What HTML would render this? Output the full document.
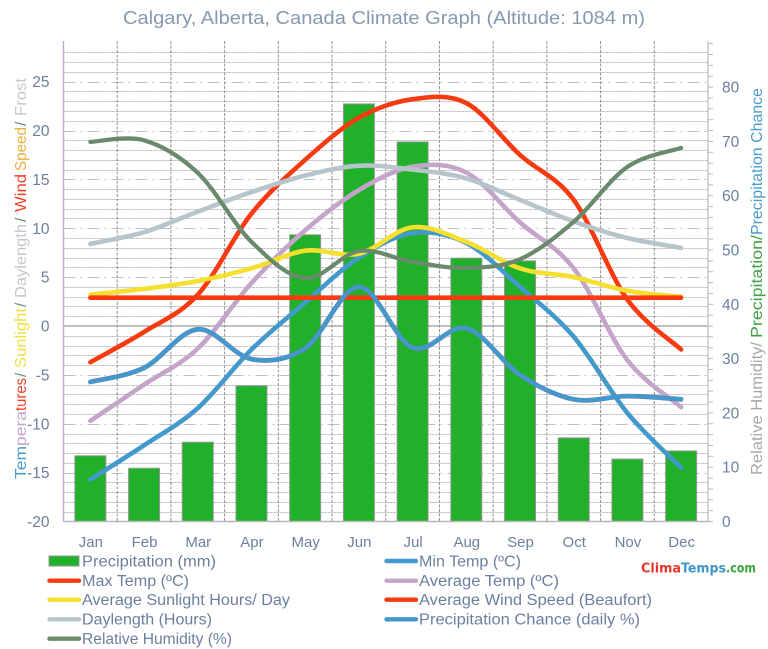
<!DOCTYPE html>
<html>
<head>
<meta charset="utf-8">
<title>Calgary, Alberta, Canada Climate Graph</title>
<style>
html,body{margin:0;padding:0;background:#fff;}
svg{display:block;font-family:"Liberation Sans",sans-serif;filter:blur(0.35px);}
</style>
</head>
<body>
<svg id="chart" xmlns="http://www.w3.org/2000/svg" width="768" height="649" viewBox="0 0 768 649">
<rect width="768" height="649" fill="#ffffff"/>
<text x="123" y="24" font-size="18.5" fill="#8699b0" textLength="522" lengthAdjust="spacingAndGlyphs">Calgary, Alberta, Canada Climate Graph (Altitude: 1084 m)</text>
<g id="grid"></g>
<g id="bars"></g>
<g id="lines"></g>
<g id="axes"></g>

<g font-size="15.5">
<text transform="translate(26,479) rotate(-90)" fill="#4a9ccc" textLength="33" lengthAdjust="spacingAndGlyphs">Tem</text>
<text transform="translate(26,446) rotate(-90)" fill="#c4a8cc" textLength="35" lengthAdjust="spacingAndGlyphs">pera</text>
<text transform="translate(26,411) rotate(-90)" fill="#f0402a" textLength="33" lengthAdjust="spacingAndGlyphs">tures</text>
<text transform="translate(26,377) rotate(-90)" fill="#6a8a6c">/</text>
<text transform="translate(26,368) rotate(-90)" fill="#efe040" textLength="60" lengthAdjust="spacingAndGlyphs">Sunlight</text>
<text transform="translate(26,307) rotate(-90)" fill="#6a8a6c">/</text>
<text transform="translate(26,298) rotate(-90)" fill="#c2c8cc" textLength="74" lengthAdjust="spacingAndGlyphs">Daylength</text>
<text transform="translate(26,222) rotate(-90)" fill="#6a8a6c">/</text>
<text transform="translate(26,212) rotate(-90)" fill="#f0402a" textLength="38" lengthAdjust="spacingAndGlyphs">Wind</text>
<text transform="translate(26,171) rotate(-90)" fill="#e8b040" textLength="44" lengthAdjust="spacingAndGlyphs">Speed</text>
<text transform="translate(26,126) rotate(-90)" fill="#6a8a6c">/</text>
<text transform="translate(26,116) rotate(-90)" fill="#c8c8c8" textLength="38" lengthAdjust="spacingAndGlyphs">Frost</text>
</g>

<g font-size="15.5">
<text transform="translate(762,475) rotate(-90)" fill="#a8a8a8" textLength="133" lengthAdjust="spacingAndGlyphs">Relative Humidity/</text>
<text transform="translate(762,338) rotate(-90)" fill="#3fa046" textLength="103" lengthAdjust="spacingAndGlyphs">Precipitation/</text>
<text transform="translate(762,235) rotate(-90)" fill="#4a9ccc" textLength="147" lengthAdjust="spacingAndGlyphs">Precipitation Chance</text>
</g>

<g id="legend"></g>

<g font-size="13.5" font-weight="bold" font-family="'DejaVu Sans','Liberation Sans',sans-serif">
<text x="641" y="572.5" fill="#e8352a" textLength="40" lengthAdjust="spacingAndGlyphs">Clima</text>
<text x="681" y="572.5" fill="#3f96c8" textLength="45" lengthAdjust="spacingAndGlyphs">Temps</text>
<text x="726" y="572.5" fill="#3aa53a" textLength="30" lengthAdjust="spacingAndGlyphs">.com</text>
</g>
</svg>
<script>
var months = ['Jan','Feb','Mar','Apr','May','Jun','Jul','Aug','Sep','Oct','Nov','Dec'];
var leftTicks = [-20,-15,-10,-5,0,5,10,15,20,25];
var rightTicks = [0,10,20,30,40,50,60,70,80];
var precipitation = [12.1,9.8,14.6,25,52.8,76.9,69.9,48.5,48,15.4,11.5,13];
var minTemp = [-15.7,-12.2,-8.4,-2.4,2.4,7,9.5,8.5,4,-1.1,-8.9,-14.5];
var maxTemp = [-3.7,-0.6,3.2,11.5,17,21.3,23.2,22.8,17.5,12.9,2.7,-2.4];
var avgTemp = [-9.7,-6,-2.3,4.4,9.8,13.9,16.3,15.7,10.6,5.9,-3.5,-8.3];
var sunlight = [3.2,3.8,4.6,5.9,7.7,7.4,10.1,8.6,5.9,5,3.6,3];
var windSpeed = [2.9,2.9,2.9,2.9,2.9,2.9,2.9,2.9,2.9,2.9,2.9,2.9];
var daylength = [8.4,9.6,11.7,13.7,15.4,16.4,16,15.1,12.9,10.7,9,8];
var humidity = [69.9,70.2,64.2,51.5,44.8,49.8,47.8,46.7,48.3,55.2,65.3,68.8];
var precipChance = [25.7,28.3,35.4,29.9,31.9,43.2,32,35.6,27,22.5,23.1,22.5];

var NS = 'http://www.w3.org/2000/svg';
var plotL = 63.5, plotR = 708, plotT = 41, plotB = 521.5;
var slot = (plotR - plotL) / 12;
function xC(i){ return plotL + slot * (i + 0.5); }
function xE(i){ return plotL + slot * i; }
function yL(v){ return 326 - v * 9.775; }
function yR(v){ return plotB - v * 5.43; }

function mk(parent, tag, attrs, txt){
  var el = document.createElementNS(NS, tag);
  for (var k in attrs) el.setAttribute(k, attrs[k]);
  if (txt !== undefined) el.textContent = txt;
  parent.appendChild(el);
  return el;
}
function spline(vals, y){
  var pts = vals.map(function(v,i){ return [xC(i), y(v)]; });
  var d = 'M' + pts[0][0].toFixed(1) + ' ' + pts[0][1].toFixed(1);
  for (var i = 0; i < pts.length - 1; i++){
    var p0 = pts[Math.max(i-1,0)], p1 = pts[i], p2 = pts[i+1], p3 = pts[Math.min(i+2,pts.length-1)];
    d += ' C' + (p1[0]+(p2[0]-p0[0])/6).toFixed(1) + ' ' + (p1[1]+(p2[1]-p0[1])/6).toFixed(1) +
         ' ' + (p2[0]-(p3[0]-p1[0])/6).toFixed(1) + ' ' + (p2[1]-(p3[1]-p1[1])/6).toFixed(1) +
         ' ' + p2[0].toFixed(1) + ' ' + p2[1].toFixed(1);
  }
  return d;
}

var grid = document.getElementById('grid');
var bars = document.getElementById('bars');
var lines = document.getElementById('lines');
var axes = document.getElementById('axes');
var legend = document.getElementById('legend');

for (var g = -19; g <= 28; g++){
  var isMajor = g % 5 === 0;
  if (g === 0) continue;
  var gy = Math.round(yL(g)) + 0.5;
  var gl = mk(grid, 'line', {x1:plotL, x2:plotR, y1:gy, y2:gy,
    stroke: isMajor ? '#b9c0c8' : '#b4b4b4',
    'stroke-width': 1,
    'stroke-dasharray': isMajor ? '12 5 2 5' : '2 1'});
  
  
}
for (var m = 1; m < 12; m++){
  var vg = mk(grid, 'line', {x1:xE(m), x2:xE(m), y1:plotT, y2:plotB, stroke:'#8f8f98', 'stroke-width':1, 'stroke-dasharray':'3 1.5'});
  
  
}
var zeroLine = mk(grid, 'line', {x1:plotL, x2:plotR, y1:yL(0), y2:yL(0), stroke:'#9a9a9a', 'stroke-width':1.2});



precipitation.forEach(function(v,i){
  var b = mk(bars, 'rect', {x:xC(i)-15.5, y:yR(v), width:31, height:plotB-yR(v), fill:'#20b02a', stroke:'#979797', 'stroke-width':1});
  
  
});

function drawLine(vals, y, color, width, outline){
  if (outline){
    var o = mk(lines, 'path', {d:spline(vals,y), fill:'none', stroke:outline, 'stroke-width':width+1, 'stroke-linecap':'round'});
    
    
  }
  var l = mk(lines, 'path', {d:spline(vals,y), fill:'none', stroke:color, 'stroke-width':width, 'stroke-linecap':'round'});
  
  
}
drawLine(minTemp, yL, '#4499cc', 4.6);
drawLine(maxTemp, yL, '#f83a10', 4.6);
drawLine(avgTemp, yL, '#c4a5c9', 4.6);
drawLine(sunlight, yL, '#f5e030', 4.6);
drawLine(windSpeed, yL, '#f83a10', 4.6);
drawLine(daylength, yL, '#b8c4cc', 4.6);
drawLine(humidity, yR, '#6a8a6c', 4.2);
drawLine(precipChance, yR, '#4499cc', 3.8, '#5f84b4');

var leftAxis = mk(axes, 'line', {x1:plotL, x2:plotL, y1:plotT, y2:plotB, stroke:'#c0a8c8', 'stroke-width':1.4});


var rightAxis = mk(axes, 'line', {x1:plotR, x2:plotR, y1:plotT, y2:plotB, stroke:'#cccccc', 'stroke-width':1.6});


var bottomAxis = mk(axes, 'line', {x1:plotL, x2:plotR, y1:plotB, y2:plotB, stroke:'#b8b8b8', 'stroke-width':1.4});



for (var t = 0; t <= 88; t += 2){
  var tk = mk(axes, 'line', {x1:plotR, x2:plotR+5, y1:yR(t), y2:yR(t), stroke:'#bbbbbb', 'stroke-width':1});
  
  
}
leftTicks.forEach(function(v){
  var lbl = mk(axes, 'text', {x:49.5, y:yL(v)+5.5, 'text-anchor':'end', 'font-size':15.5, fill:'#6a7fa0'}, String(v));
  
  
});
rightTicks.forEach(function(v){
  var lbl = mk(axes, 'text', {x:722, y:yR(v)+5.5, 'font-size':15.5, fill:'#6a7fa0'}, String(v));
  
  
});
months.forEach(function(mn,i){
  var lbl = mk(axes, 'text', {x:xC(i)+0.5, y:547, 'text-anchor':'middle', 'font-size':15, fill:'#6c7f9f'}, mn);
  
  
});

var legendEntries = [
  ['Precipitation (mm)', 82, 134, 48, 561, '#20b02a', 'bar'],
  ['Max Temp (\u00BAC)', 82, 107, 48, 580.7, '#f83a10', 'line'],
  ['Average Sunlight Hours/ Day', 82, 208, 48, 599.7, '#f5e030', 'line'],
  ['Daylength (Hours)', 82, 130, 48, 619.3, '#b8c4cc', 'line'],
  ['Relative Humidity (%)', 82, 150, 48, 638.7, '#6a8a6c', 'line'],
  ['Min Temp (\u00BAC)', 419, 102, 385, 561, '#4499cc', 'line'],
  ['Average Temp (\u00BAC)', 419, 140, 385, 580.7, '#c4a5c9', 'line'],
  ['Average Wind Speed (Beaufort)', 419, 233, 385, 599.7, '#f83a10', 'line'],
  ['Precipitation Chance (daily %)', 419, 221, 385, 619.3, '#4499cc', 'line']
];
legendEntries.forEach(function(e){
  var sw;
  if (e[6] === 'bar'){
    sw = mk(legend, 'rect', {x:e[3]+1, y:e[4]-5, width:30, height:10, fill:e[5], stroke:'#979797', 'stroke-width':1});
  } else {
    sw = mk(legend, 'line', {x1:e[3]+1.5, x2:e[3]+31, y1:e[4], y2:e[4], stroke:e[5], 'stroke-width':4.4, 'stroke-linecap':'round'});
  }
  
  
  var tx = mk(legend, 'text', {x:e[1], y:e[4]+5.3, 'font-size':15.5, fill:'#6c7f9f', textLength:e[2], lengthAdjust:'spacingAndGlyphs'}, e[0]);
  
  
});
</script>
</body>
</html>
